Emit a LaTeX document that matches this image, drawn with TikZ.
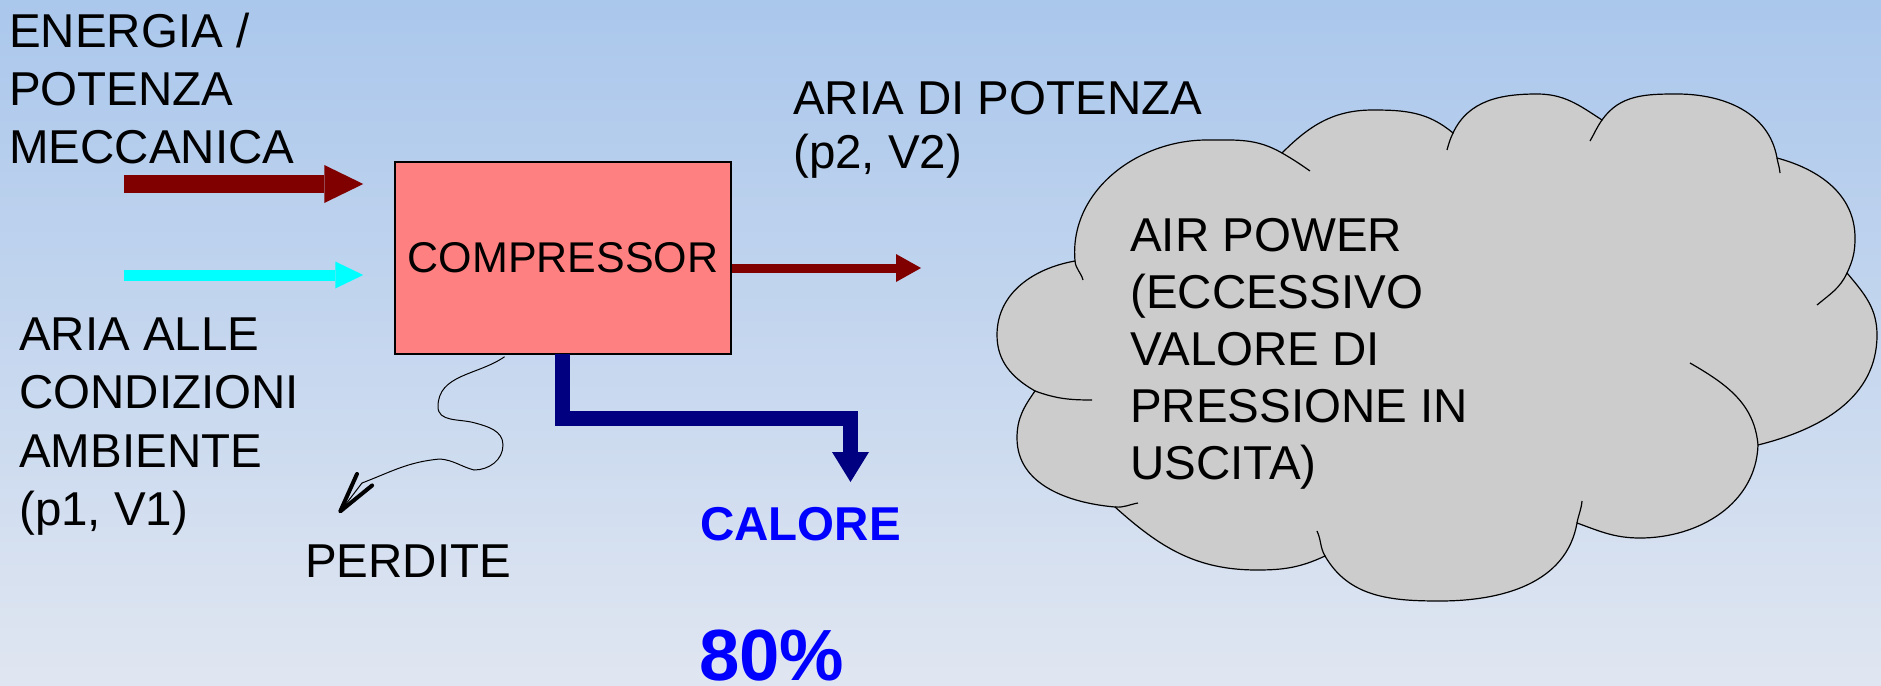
\documentclass[tikz,border=0pt]{standalone}
\usepackage{fontspec}
\setmainfont{Liberation Sans}
\usetikzlibrary{arrows.meta}
\definecolor{darkred}{RGB}{128,0,0}
\definecolor{navyb}{RGB}{0,0,128}
\definecolor{aqua}{RGB}{0,255,255}
\definecolor{txtblue}{RGB}{0,0,255}
\definecolor{boxred}{RGB}{255,128,128}
\definecolor{cloudgray}{RGB}{204,204,204}
\definecolor{bgtop}{RGB}{170,199,236}
\definecolor{bgbot}{RGB}{224,230,241}
\begin{document}
\begin{tikzpicture}[x=1pt,y=1pt,
  lbl/.style={inner sep=0pt, anchor=base west, align=left},
  big/.style={font=\fontsize{47.5}{58}\selectfont},
  bluebold/.style={inner sep=0pt, anchor=base west, text=txtblue},
  cloudline/.style={draw=black, line width=1.2pt}
]
\useasboundingbox (0,0) rectangle (1881,-685);
\shade[top color=bgtop, bottom color=bgbot] (0,0) rectangle (1881,-685);

% compressor box
\node[draw=black, line width=1.5pt, fill=boxred, minimum width=336pt, minimum height=192pt,
      inner sep=0pt, font=\fontsize{43}{50}\selectfont] (comp) at (563,-258) {COMPRESSOR};

% labels (base anchor = baseline of the last line)
\node[lbl, font=\fontsize{47.5}{58}\selectfont] (mech) at (9,-163) {ENERGIA /\\POTENZA\\MECCANICA};
\node[lbl, font=\fontsize{47.5}{58.5}\selectfont] (amb) at (19,-525.5) {ARIA ALLE\\CONDIZIONI\\AMBIENTE\\(p1, V1)};
\node[lbl, font=\fontsize{47.5}{54}\selectfont] (pot) at (793,-168.5) {ARIA DI POTENZA\\(p2, V2)};
\node[lbl, big] (perd) at (305,-577) {PERDITE};
\node[bluebold, font=\fontsize{47.5}{58}\selectfont\bfseries] (cal) at (700,-540) {CALORE};
\node[bluebold, font=\fontsize{72.5}{80}\selectfont\bfseries] (perc) at (699,-680) {80\%};

% input arrows
\coordinate (mechS) at (124,-184);
\coordinate (airS) at (124,-275);
\draw[darkred, line width=18pt, -{Triangle[width=38pt,length=39pt,line width=0pt]}, shorten >=31pt]
  (mechS) -- (mechS -| comp.west);
\draw[aqua, line width=11pt, -{Triangle[width=27pt,length=28pt,line width=0pt]}, shorten >=31pt]
  (airS) -- (airS -| comp.west);

% output arrow
\coordinate (outE) at (921,-268);
\draw[darkred, line width=9pt, -{Triangle[width=28pt,length=25pt,line width=0pt]}]
  (comp.east |- outE) -- (outE);

% heat arrow
\coordinate (heatS) at (562,-354);
\coordinate (heatK) at (850.5,-418.5);
\coordinate (heatE) at (850.5,-482);
\draw[navyb, line width=15pt, line join=miter, -{Triangle[width=37pt,length=30pt,line width=0pt]}]
  (heatS) |- (heatK) -- (heatE);

% losses wiggle
\coordinate (perdS) at (504.6,-356.7);
\coordinate (perdE) at (339,-513);
\draw[black, line width=1pt, -{Straight Barb[length=40pt,width=19pt,line width=4pt,round]}]
  (perdS) to[out=215,in=90] (438,-406.7) to[out=-90,in=165] (474,-422.7)
  to[out=-15,in=90] (503,-445) to[out=-90,in=0] (474,-470)
  to[out=165,in=-5] (440,-459) to[out=185,in=21] (362,-483) -- (perdE);

% cloud
\path[cloudline, fill=cloudgray]
  (1075,-261) to[out=95,in=180] (1207,-140) to[out=0,in=150] (1282,-153)
  to[out=45,in=180] (1373,-110) to[out=0,in=140] (1453,-133)
  to[out=65,in=180] (1537,-94) to[out=0,in=147] (1602,-120)
  to[out=55,in=180] (1677,-94) to[out=0,in=100] (1777,-158)
  to[out=-15,in=90] (1855,-238) to[out=-90,in=65] (1847,-273)
  to[out=-50,in=90] (1877,-335) to[out=-90,in=14] (1758,-445)
  to[out=-92,in=0] (1640,-538) to[out=180,in=-20] (1577,-523)
  to[out=-100,in=0] (1440,-601) to[out=180,in=-60] (1325,-556)
  to[out=-155,in=0] (1257,-570) to[out=180,in=-42] (1115,-507)
  to[out=175,in=-90] (1017,-438) to[out=90,in=-125] (1035,-391)
  to[out=150,in=-90] (997,-335) to[out=90,in=190] (1075,-261) -- cycle;
% cloud inner strokes
\draw[cloudline] (1035,-391) to[out=-20,in=180] (1092,-400);
\draw[cloudline] (1075,-261) to[out=-85,in=105] (1083,-280);
\draw[cloudline] (1282,-153) to[out=-30,in=145] (1310,-171);
\draw[cloudline] (1453,-133) to[out=-115,in=75] (1447,-150);
\draw[cloudline] (1602,-120) to[out=-125,in=60] (1590,-141);
\draw[cloudline] (1777,-158) to[out=-80,in=95] (1780,-173);
\draw[cloudline] (1847,-273) to[out=-115,in=40] (1817,-305);
\draw[cloudline] (1758,-445) to[out=95,in=-30] (1690,-363);
\draw[cloudline] (1577,-523) to[out=80,in=-95] (1582,-501);
\draw[cloudline] (1325,-556) to[out=120,in=-65] (1317,-531);
\draw[cloudline] (1115,-507) to[out=-5,in=190] (1138,-503);

\node[lbl, font=\fontsize{47.5}{57}\selectfont] (airp) at (1130,-479.3)
  {AIR POWER\\(ECCESSIVO\\VALORE DI\\PRESSIONE IN\\USCITA)};
\end{tikzpicture}
\end{document}
